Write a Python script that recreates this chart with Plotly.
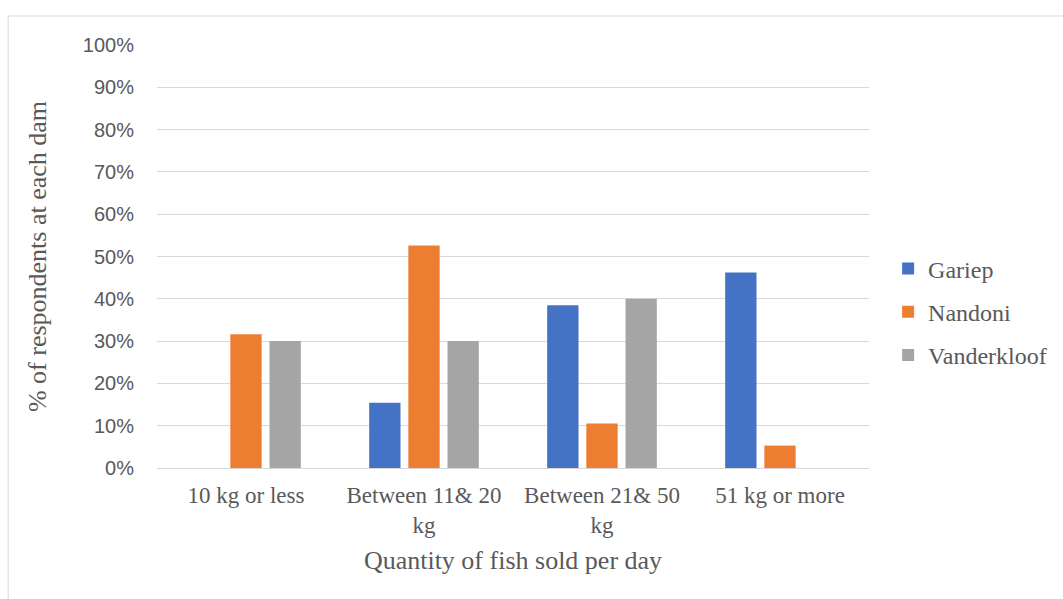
import plotly.graph_objects as go

categories = ["10 kg or less", "Between 11& 20<br>kg", "Between 21& 50<br>kg", "51 kg or more"]
gariep = [0, 15.4, 38.5, 46.2]
nandoni = [31.6, 52.6, 10.5, 5.3]
vanderkloof = [30, 30, 40, 0]
y_ticks = list(range(0, 101, 10))
y_labels = [f"{v}%" for v in y_ticks]

series = [
    ("Gariep", gariep, "#4472c4"),
    ("Nandoni", nandoni, "#ed7d31"),
    ("Vanderkloof", vanderkloof, "#a5a5a5"),
]

fig = go.Figure()
for name, vals, color in series:
    fig.add_trace(go.Bar(
        x=categories, y=vals, name=name, legendgroup=name,
        marker=dict(color=color, line=dict(width=0)),
    ))

serif = "Liberation Serif, Times New Roman, serif"
sans = "Liberation Sans, Arial, sans-serif"
grey = "#595959"

fig.update_layout(
    width=1063, height=599,
    margin=dict(l=157, r=193, t=45, b=131),
    paper_bgcolor="white", plot_bgcolor="white",
    barmode="group", bargap=0.34, bargroupgap=0.2,
    showlegend=True,
    legend=dict(
        x=1.0254, y=0.369, xanchor="left", yanchor="middle",
        font=dict(family=serif, size=24, color=grey),
        traceorder="grouped", tracegroupgap=9,
        itemwidth=30,
    ),
    xaxis=dict(
        showgrid=False, showline=True, linecolor="#d9d9d9", linewidth=1,
        ticks="", tickfont=dict(family=serif, size=23, color=grey),
        ticklabelstandoff=6,
        title=dict(text="Quantity of fish sold per day",
                   font=dict(family=serif, size=26, color=grey), standoff=14),
    ),
    yaxis=dict(
        range=[0, 100], tickvals=y_ticks, ticktext=y_labels,
        showgrid=True, gridcolor="#d9d9d9", gridwidth=1,
        zeroline=False, ticks="",
        tickfont=dict(family=sans, size=20, color=grey),
        ticklabelstandoff=22,
        title=dict(text="% of respondents at each dam",
                   font=dict(family=serif, size=26, color=grey), standoff=28),
    ),
    shapes=[dict(
        type="rect", xref="paper", yref="paper",
        x0=-0.209, x1=1.4, y0=-0.5, y1=1.0686,
        line=dict(color="#d9d9d9", width=1), fillcolor="rgba(0,0,0,0)",
        layer="below",
    )],
)

fig.write_html("out.html")
